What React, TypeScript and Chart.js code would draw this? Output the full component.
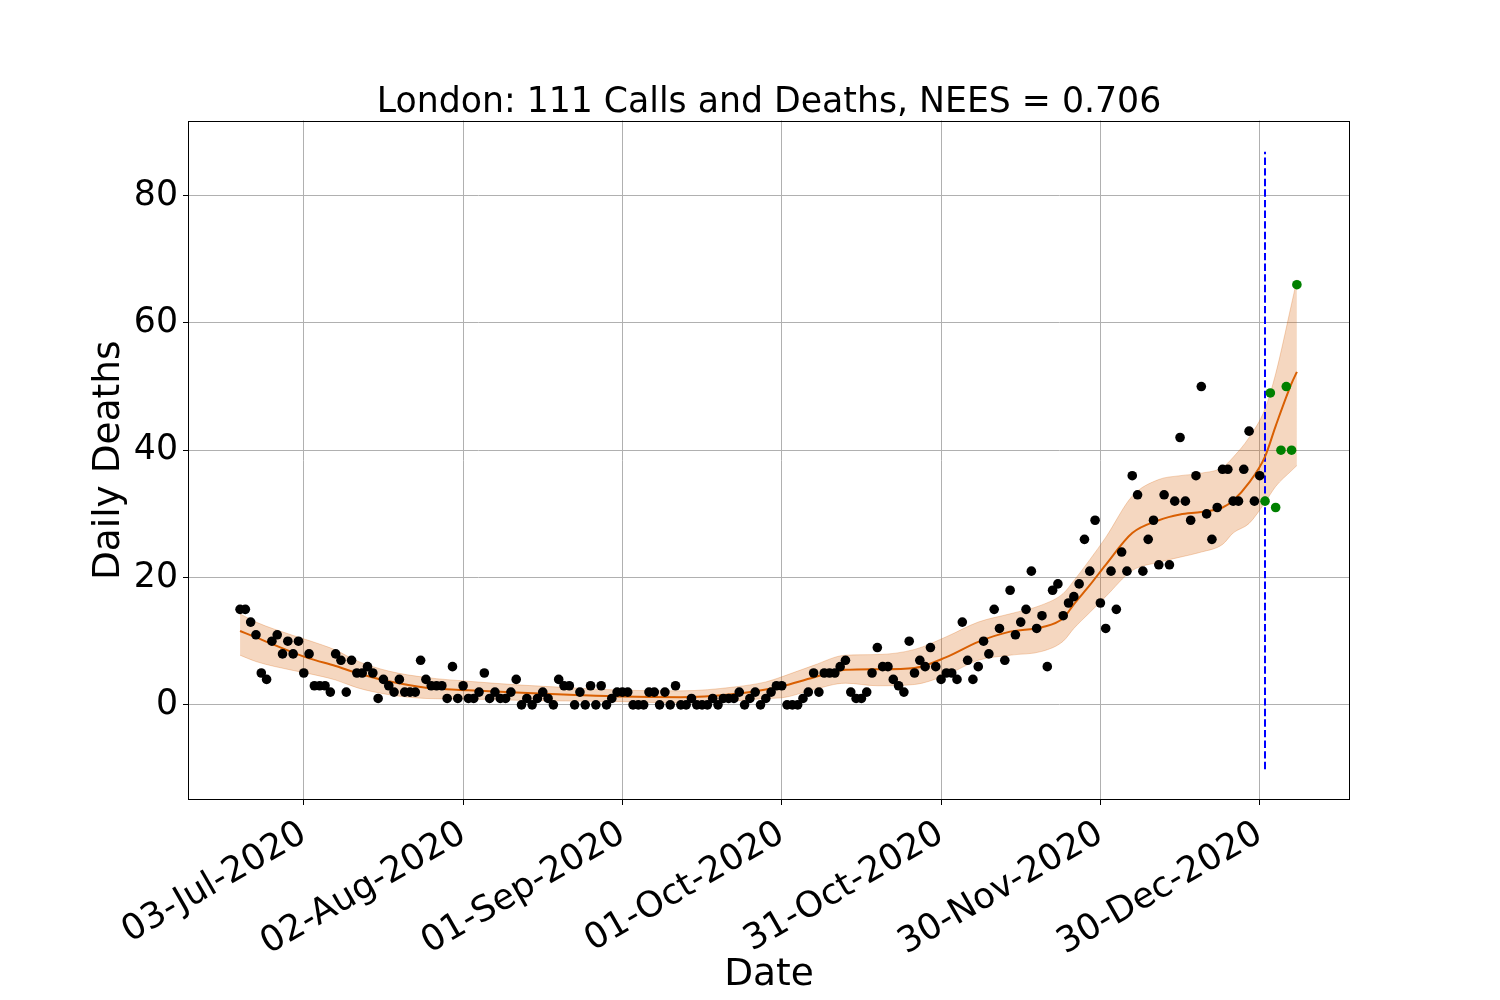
import { useEffect, useRef } from "react";
import { Chart, registerables } from "chart.js";

Chart.register(...registerables);

// x axis is "days since 03-Jul-2020"
const xTickDays = [0, 30, 60, 90, 120, 150, 180];
const xTickLabels = [
  "03-Jul-2020",
  "02-Aug-2020",
  "01-Sep-2020",
  "01-Oct-2020",
  "31-Oct-2020",
  "30-Nov-2020",
  "30-Dec-2020",
];
const yTicks = [0, 20, 40, 60, 80];

const chartTitle = "London: 111 Calls and Deaths, NEES = 0.706";

// observed daily deaths, 21-Jun-2020 (day -12) .. 30-Dec-2020 (day 180)
const firstDay = -12;
const deaths = [
  15, 15, 13, 11, 5, 4, 10, 11, 8, 10, 8, 10,
  5, 8, 3, 3, 3, 2, 8, 7, 2, 7,
  5, 5, 6, 5, 1, 4, 3, 2, 4, 2,
  2, 2, 7, 4, 3, 3, 3, 1, 6, 1,
  3, 1, 1, 2, 5, 1, 2, 1, 1, 2,
  4, 0, 1, 0, 1, 2, 1, 0, 4, 3,
  3, 0, 2, 0, 3, 0, 3, 0, 1, 2,
  2, 2, 0, 0, 0, 2, 2, 0, 2, 0,
  3, 0, 0, 1, 0, 0, 0, 1, 0, 1,
  1, 1, 2, 0, 1, 2, 0, 1, 2, 3,
  3, 0, 0, 0, 1, 2, 5, 2, 5, 5,
  5, 6, 7, 2, 1, 1, 2, 5, 9, 6,
  6, 4, 3, 2, 10, 5, 7, 6, 9, 6,
  4, 5, 5, 4, 13, 7, 4, 6, 10, 8,
  15, 12, 7, 18, 11, 13, 15, 21, 12, 14,
  6, 18, 19, 14, 16, 17, 19, 26, 21, 29,
  16, 12, 21, 15, 24, 21, 36, 33, 21, 26,
  29, 22, 33, 22, 32, 42, 32, 29, 36, 50,
  30, 26, 31, 37, 37, 32, 32, 37, 43, 32, 36,
];

// held-out deaths, 31-Dec-2020 .. 06-Jan-2021
const testFirstDay = 181;
const testDeaths = [32, 49, 31, 40, 50, 40, 66];

// smoothed estimate and its band
const fitDays = [
  -12, -9, -2, 1, 6, 10, 16, 23, 31, 41, 50, 60, 71, 81, 87, 90, 96, 102, 108,
  115, 121, 127, 133, 139, 143, 145, 148, 151, 156, 161, 165, 169, 173, 175,
  178, 181, 183, 186, 187,
];
const fitMean = [
  11.6, 10.6, 8.2, 7.3, 6.1, 5.0, 3.7, 2.7, 2.3, 1.9, 1.6, 1.3, 1.2, 1.7, 2.4,
  2.9, 4.3, 5.5, 5.6, 5.8, 7.5, 9.9, 11.5, 12.2, 13.6, 15.8, 18.8, 22.0, 27.0,
  29.0, 29.9, 30.3, 31.0, 32.1, 34.9, 39.0, 43.8, 50.5, 52.3,
];
const fitUpper = [
  14.3, 13.0, 10.9, 10.1, 8.6, 6.9, 5.3, 4.3, 3.7, 3.1, 2.7, 2.3, 2.2, 2.8, 3.6,
  4.4, 6.2, 7.8, 7.9, 8.7, 10.7, 13.0, 14.3, 15.7, 17.5, 19.5, 22.8, 26.3, 32.8,
  35.4, 36.0, 36.4, 37.3, 38.9, 42.0, 46.5, 52.0, 63.0, 66.8,
];
const fitLower = [
  7.8, 6.8, 5.4, 4.9, 3.9, 2.7, 1.6, 1.0, 0.9, 0.7, 0.6, 0.5, 0.3, 0.6, 1.0,
  1.1, 2.4, 3.4, 3.0, 3.2, 4.7, 7.0, 7.8, 8.4, 10.0, 12.0, 14.5, 17.0, 21.1,
  22.4, 23.2, 24.0, 25.2, 27.0, 28.5, 31.8, 34.3, 36.8, 37.6,
];

// train / test split marker
const splitDay = 181;
const splitRange = [-10.1, 86.9];

const FONT = "DejaVu Sans";
const ORANGE = "#d95f02";
const BAND = "rgba(217,95,2,0.25)";

// black frame round the plot area plus the title centred over it
const framePlugin = {
  id: "frame",
  afterDatasetsDraw(chart: Chart) {
    const { ctx, chartArea } = chart;
    const l = Math.round(chartArea.left) + 0.5;
    const t = Math.round(chartArea.top) + 0.5;
    const r = Math.round(chartArea.right) - 0.5;
    const b = Math.round(chartArea.bottom) - 0.5;
    ctx.save();
    ctx.strokeStyle = "#000";
    ctx.lineWidth = 1;
    ctx.strokeRect(l, t, r - l, b - t);
    ctx.fillStyle = "#000";
    ctx.font = `34.7px "${FONT}"`;
    ctx.textAlign = "center";
    ctx.textBaseline = "alphabetic";
    ctx.fillText(chartTitle, (chartArea.left + chartArea.right) / 2, 111.5);
    ctx.restore();
  },
};

export default function App() {
  const canvasRef = useRef<HTMLCanvasElement | null>(null);
  const chartRef = useRef<Chart | null>(null);

  useEffect(() => {
    if (!canvasRef.current) return;
    chartRef.current?.destroy();

    const toXY = (days: number[], vals: number[]) =>
      days.map((d, i) => ({ x: d, y: vals[i] }));

    chartRef.current = new Chart(canvasRef.current, {
      type: "scatter",
      data: {
        datasets: [
          {
            label: "observed",
            data: deaths.map((v, i) => ({ x: firstDay + i, y: v })),
            backgroundColor: "#000",
            borderWidth: 0,
            pointRadius: 4.8,
            order: 0,
          },
          {
            label: "held out",
            data: testDeaths.map((v, i) => ({ x: testFirstDay + i, y: v })),
            backgroundColor: "#008000",
            borderWidth: 0,
            pointRadius: 4.8,
            order: 0,
          },
          {
            type: "line",
            label: "mean",
            data: toXY(fitDays, fitMean),
            borderColor: ORANGE,
            borderWidth: 2,
            pointRadius: 0,
            cubicInterpolationMode: "monotone",
            fill: false,
            order: 1,
          },
          {
            type: "line",
            label: "upper",
            data: toXY(fitDays, fitUpper),
            borderColor: BAND,
            backgroundColor: BAND,
            borderWidth: 1,
            pointRadius: 0,
            cubicInterpolationMode: "monotone",
            fill: "+1",
            order: 3,
          },
          {
            type: "line",
            label: "lower",
            data: toXY(fitDays, fitLower),
            borderColor: BAND,
            borderWidth: 1,
            pointRadius: 0,
            cubicInterpolationMode: "monotone",
            fill: false,
            order: 3,
          },
          {
            type: "line",
            label: "split",
            data: splitRange.map((y) => ({ x: splitDay, y })),
            borderColor: "#0000ff",
            borderWidth: 2,
            borderDash: [7.4, 3.2],
            pointRadius: 0,
            fill: false,
            order: 2,
          },
        ],
      },
      options: {
        animation: false,
        responsive: false,
        devicePixelRatio: 1,
        events: [],
        layout: { padding: { left: 0, right: 150, top: 120.5, bottom: 0 } },
        plugins: {
          legend: { display: false },
          tooltip: { enabled: false },
          title: { display: false },
        },
        scales: {
          x: {
            type: "linear",
            min: -21.8,
            max: 197,
            afterBuildTicks: (scale) => {
              scale.ticks = xTickDays.map((v) => ({ value: v }));
            },
            afterFit: (scale) => {
              scale.height = 200;
            },
            grid: {
              color: "#b0b0b0",
              lineWidth: 1,
              tickColor: "#000",
              tickLength: 5,
            },
            border: { display: false },
            ticks: {
              autoSkip: false,
              minRotation: 30,
              maxRotation: 30,
              padding: 8,
              color: "#000",
              font: { family: FONT, size: 35.5 },
              callback: (_v, i) => xTickLabels[i],
            },
            title: {
              display: true,
              text: "Date",
              color: "#000",
              font: { family: FONT, size: 37.5, lineHeight: 1.2 },
              padding: { top: 0, bottom: 2.5 },
            },
          },
          y: {
            type: "linear",
            min: -14.95,
            max: 91.8,
            afterBuildTicks: (scale) => {
              scale.ticks = yTicks.map((v) => ({ value: v }));
            },
            afterFit: (scale) => {
              scale.width = 188;
            },
            grid: {
              color: "#b0b0b0",
              lineWidth: 1,
              tickColor: "#000",
              tickLength: 5,
            },
            border: { display: false },
            ticks: {
              padding: 5,
              color: "#000",
              font: { family: FONT, size: 34.7 },
            },
            title: {
              display: true,
              text: "Daily Deaths",
              color: "#000",
              font: { family: FONT, size: 37.5, lineHeight: 1.2 },
              padding: { top: 87, bottom: 0 },
            },
          },
        },
      },
      plugins: [framePlugin],
    });

    return () => {
      chartRef.current?.destroy();
      chartRef.current = null;
    };
  }, []);

  return (
    <div
      style={{
        position: "absolute",
        left: 0,
        top: 0,
        width: 1500,
        height: 1000,
        background: "#fff",
      }}
    >
      <canvas
        ref={canvasRef}
        width={1500}
        height={1000}
        style={{ width: 1500, height: 1000 }}
      />
    </div>
  );
}
